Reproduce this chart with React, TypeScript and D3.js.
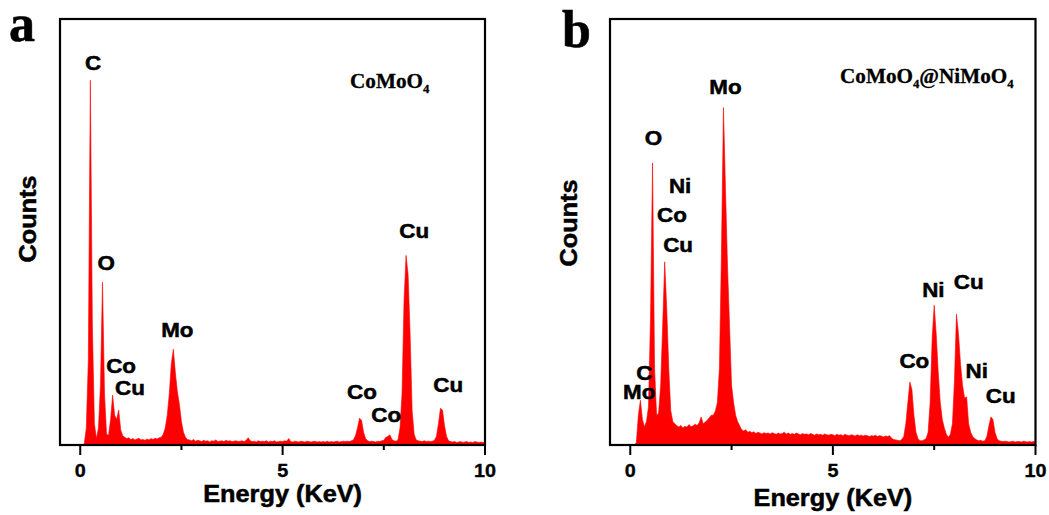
import React from "react";
import * as d3 from "d3";

// EDS spectra, counts per 0.05 keV channel starting at 0 keV (relative scale, 100 = full height)
const CHANNEL_KEV = 0.05;

const countsCoMoO4: number[] = [
  // 0.00 - 0.95
  0, 0, 0.3, 4, 20, 85.6, 28, 5, 1.5, 4, 14, 38.2, 12, 2.5, 2.3, 6, 11.7, 7, 6, 8.2,
  // 1.00 - 1.95
  3.5, 2.2, 1.8, 1.5, 1.7, 1.3, 1.5, 1.2, 1.4, 1.6, 1.2, 1.3, 1.1, 1.4, 1.2, 1.5, 1.3, 1.6, 1.4, 1.7,
  // 2.00 - 2.95
  1.8, 2.5, 4, 7, 12, 19, 22.5, 17, 12.5, 9.5, 5.5, 3, 1.8, 1.3, 1.2, 1.0, 1.3, 0.9, 1.1, 1.0,
  // 3.00 - 3.95
  0.8, 1.1, 0.9, 1.0, 0.7, 1.0, 0.9, 1.2, 0.8, 0.9, 1.0, 0.8, 1.1, 0.9, 1.0, 0.8, 0.9, 1.0, 0.8, 0.9,
  // 4.00 - 4.95
  1.0, 0.8, 1.1, 1.7, 1.0, 0.8, 0.9, 0.7, 1.0, 0.8, 0.9, 0.8, 1.0, 0.7, 0.9, 0.8, 1.0, 0.7, 0.8, 0.9,
  // 5.00 - 5.95
  0.8, 1.0, 0.9, 1.5, 0.8, 0.7, 0.9, 0.8, 0.7, 0.9, 0.8, 0.7, 0.9, 0.8, 0.7, 0.8, 0.9, 0.7, 0.8, 0.7,
  // 6.00 - 6.95
  0.8, 0.7, 0.9, 0.7, 0.8, 0.7, 0.8, 0.9, 0.7, 0.8, 0.9, 0.8, 0.9, 0.8, 1.0, 1.2, 2.2, 4, 6.3, 5.8,
  // 7.00 - 7.95
  3, 1.5, 1.0, 0.8, 0.9, 0.8, 0.7, 0.9, 0.8, 1.0, 1.1, 1.8, 2.0, 2.4, 1.3, 1.0, 0.9, 1.2, 4, 12,
  // 8.00 - 8.95
  34, 44.5, 40, 26, 8, 2.5, 1.2, 1.0, 0.9, 0.8, 1.0, 0.8, 0.9, 0.8, 0.9, 1.1, 2, 5, 8.6, 8.2,
  // 9.00 - 9.95
  4.5, 2, 1.0, 0.8, 0.7, 0.8, 0.6, 0.7, 0.8, 0.6, 0.7, 0.8, 0.6, 0.7, 0.6, 0.8, 0.7, 0.6, 0.7, 0.6,
  // 10.00
  0.6,
];

const countsCoreShell: number[] = [
  // 0.00 - 0.95
  0, 0, 0, 0.5, 7, 10.5, 6, 4.3, 5.5, 9, 30, 66.2, 18, 7, 7.5, 14, 28, 43, 32, 18,
  // 1.00 - 1.95
  8, 5.5, 5, 4.5, 4.2, 4.6, 4.0, 4.4, 4.2, 4.8, 4.3, 4.5, 4.9, 4.6, 5.2, 6.6, 5.0, 5.4, 5.8, 6.4,
  // 2.00 - 2.95
  7, 7, 8, 10, 18, 45, 79.2, 60, 42, 28, 14, 10, 7, 5.5, 4.5, 3.6, 3.3, 3.6, 3.0, 3.2,
  // 3.00 - 3.95
  2.9, 3.1, 2.7, 3.0, 2.8, 2.6, 2.9, 2.7, 2.8, 2.6, 2.9, 2.7, 2.5, 2.8, 2.6, 2.7, 3.0, 2.6, 2.8, 2.5,
  // 4.00 - 4.95
  2.7, 2.5, 2.8, 2.6, 2.4, 2.7, 2.5, 2.6, 2.4, 2.7, 2.5, 2.3, 2.6, 2.4, 2.5, 2.3, 2.6, 2.4, 2.3, 2.5,
  // 5.00 - 5.95
  2.4, 2.2, 2.5, 2.3, 2.4, 2.2, 2.5, 2.3, 2.2, 2.4, 2.3, 2.1, 2.4, 2.2, 2.3, 2.1, 2.3, 2.2, 2.0, 2.2,
  // 6.00 - 6.95
  2.1, 2.3, 2.0, 2.2, 2.1, 1.9, 2.1, 2.0, 2.2, 1.6, 1.3, 1.2, 1.1, 1.0, 1.3, 2, 5, 10, 14.8, 13,
  // 7.00 - 7.95
  7, 3, 1.5, 1.0, 1.0, 1.2, 1.5, 3, 10, 25, 32.8, 26, 17, 10, 6, 4, 2.5, 1.8, 2.5, 5,
  // 8.00 - 8.95
  15, 30.7, 26, 19, 14, 11, 11.3, 5, 3, 2, 1.5, 1.2, 1.0, 1.1, 0.9, 1.0, 2, 4.5, 6.6, 6,
  // 9.00 - 9.95
  3, 1.5, 1.0, 0.9, 0.8, 0.9, 0.8, 0.7, 0.8, 0.9, 0.7, 0.8, 0.8, 0.7, 0.9, 0.8, 0.7, 0.8, 0.7, 0.8,
  // 10.00
  0.7,
];

const majorTicks = [0, 5, 10];
const minorTicks = [2.5, 7.5];
const energyDomain: [number, number] = [-0.5, 10];

// Element labels: text, centre energy (keV) and baseline level (counts)
type PeakLabel = { text: string; keV: number; level: number };

const labelsCoMoO4: PeakLabel[] = [
  { text: "C", keV: 0.32, level: 88.0 },
  { text: "O", keV: 0.64, level: 41.1 },
  { text: "Co", keV: 1.01, level: 16.9 },
  { text: "Cu", keV: 1.23, level: 11.7 },
  { text: "Mo", keV: 2.4, level: 25.4 },
  { text: "Co", keV: 6.96, level: 10.8 },
  { text: "Co", keV: 7.56, level: 5.4 },
  { text: "Cu", keV: 8.25, level: 48.6 },
  { text: "Cu", keV: 9.09, level: 12.4 },
];

const labelsCoreShell: PeakLabel[] = [
  { text: "Mo", keV: 2.35, level: 82.4 },
  { text: "O", keV: 0.57, level: 70.4 },
  { text: "Ni", keV: 1.23, level: 59.2 },
  { text: "Co", keV: 1.03, level: 52.3 },
  { text: "Cu", keV: 1.18, level: 45.3 },
  { text: "C", keV: 0.35, level: 15.3 },
  { text: "Mo", keV: 0.22, level: 10.8 },
  { text: "Co", keV: 7.01, level: 18.1 },
  { text: "Ni", keV: 7.48, level: 34.7 },
  { text: "Cu", keV: 8.35, level: 36.6 },
  { text: "Ni", keV: 8.55, level: 15.7 },
  { text: "Cu", keV: 9.14, level: 9.9 },
];

const SANS = "'Liberation Sans', Arial, Helvetica, sans-serif";
const SERIF = "'Liberation Serif', 'Times New Roman', serif";
const RED = "#ff0000";

type StextProps = {
  x: number;
  y: number;
  size: number;
  sx?: number;
  rotate?: number;
  family?: string;
  anchor?: "start" | "middle" | "end";
  heavy?: number;
  children: React.ReactNode;
};

function SText({ x, y, size, sx = 1, rotate = 0, family = SANS, anchor = "middle", heavy = 0.35, children }: StextProps) {
  return (
    <text
      transform={`translate(${x},${y}) rotate(${rotate}) scale(${sx},1)`}
      fontSize={size}
      fontFamily={family}
      fontWeight="bold"
      textAnchor={anchor}
      fill="#000"
      stroke="#000"
      strokeWidth={heavy}
    >
      {children}
    </text>
  );
}

type Formula = { parts: { t: string; sub?: boolean }[] };

const formulaCoMoO4: Formula = { parts: [{ t: "CoMoO" }, { t: "4", sub: true }] };
const formulaCoreShell: Formula = {
  parts: [{ t: "CoMoO" }, { t: "4", sub: true }, { t: "@NiMoO" }, { t: "4", sub: true }],
};

type PanelProps = {
  id: string;
  letter: string;
  letterX: number;
  letterY: number;
  left: number;
  right: number;
  counts: number[];
  labels: PeakLabel[];
  formula: Formula;
  formulaX: number;
  formulaY: number;
  countsTitleX: number;
  countsTitleY: number;
  energyTitleY: number;
};

const TOP = 19;
const BOTTOM = 445;

function Panel(p: PanelProps) {
  const x = d3.scaleLinear().domain(energyDomain).range([p.left, p.right]);
  const y = d3.scaleLinear().domain([0, 100]).range([BOTTOM, TOP]);
  const points = p.counts.map((c, i) => ({ e: i * CHANNEL_KEV, c }));
  const area = d3
    .area<{ e: number; c: number }>()
    .x((d) => x(d.e))
    .y0(y(0))
    .y1((d) => y(d.c))
    .curve(d3.curveLinear);
  const clipId = `clip-${p.id}`;
  const midX = (x(0) + x(10)) / 2;

  return (
    <g>
      <defs>
        <clipPath id={clipId}>
          <rect x={p.left} y={TOP} width={p.right - p.left} height={BOTTOM - TOP} />
        </clipPath>
      </defs>
      <path d={area(points) ?? ""} fill={RED} stroke={RED} strokeWidth={0.6} clipPath={`url(#${clipId})`} />
      <rect
        x={p.left}
        y={TOP}
        width={p.right - p.left}
        height={BOTTOM - TOP}
        fill="none"
        stroke="#000"
        strokeWidth={2.2}
      />
      {majorTicks.map((t) => (
        <line key={`M${t}`} x1={x(t)} x2={x(t)} y1={BOTTOM} y2={BOTTOM + 10} stroke="#000" strokeWidth={2} />
      ))}
      {minorTicks.map((t) => (
        <line key={`m${t}`} x1={x(t)} x2={x(t)} y1={BOTTOM} y2={BOTTOM + 5} stroke="#000" strokeWidth={2} />
      ))}
      {majorTicks.map((t) => (
        <SText key={`L${t}`} x={x(t)} y={477} size={18} sx={1.1}>
          {d3.format("d")(t)}
        </SText>
      ))}
      {p.labels.map((l, i) => (
        <SText key={`P${i}`} x={x(l.keV)} y={y(l.level)} size={20} sx={1.12} heavy={0.5}>
          {l.text}
        </SText>
      ))}
      <text
        transform={`translate(${p.formulaX},${p.formulaY}) scale(1.06,1)`}
        fontFamily={SERIF}
        fontWeight="bold"
        fontSize={20}
        fill="#000"
        stroke="#000"
        strokeWidth={0.3}
      >
        {p.formula.parts.map((part, i) =>
          part.sub ? (
            <tspan key={i} fontSize={12} dy={5}>
              {part.t}
            </tspan>
          ) : (
            <tspan key={i} dy={i > 0 ? -5 : 0}>
              {part.t}
            </tspan>
          )
        )}
      </text>
      <SText x={midX} y={p.energyTitleY} size={23} sx={1.1} heavy={0.5}>
        Energy (KeV)
      </SText>
      <SText x={p.countsTitleX} y={p.countsTitleY} size={23} sx={1.1} rotate={-90} heavy={0.5}>
        Counts
      </SText>
      <SText x={p.letterX} y={p.letterY} size={52} family={SERIF} anchor="start" heavy={0.6}>
        {p.letter}
      </SText>
    </g>
  );
}

export default function App() {
  return (
    <svg
      width={1049}
      height={515}
      viewBox="0 0 1049 515"
      style={{ position: "absolute", left: 0, top: 0, background: "#fff" }}
    >
      <rect x={0} y={0} width={1049} height={515} fill="#fff" />
      <Panel
        id="a"
        letter="a"
        letterX={9}
        letterY={41}
        left={60}
        right={485}
        counts={countsCoMoO4}
        labels={labelsCoMoO4}
        formula={formulaCoMoO4}
        formulaX={350}
        formulaY={88}
        countsTitleX={36}
        countsTitleY={219}
        energyTitleY={502}
      />
      <Panel
        id="b"
        letter="b"
        letterX={562}
        letterY={47}
        left={610}
        right={1035.5}
        counts={countsCoreShell}
        labels={labelsCoreShell}
        formula={formulaCoreShell}
        formulaX={840}
        formulaY={83}
        countsTitleX={577}
        countsTitleY={223}
        energyTitleY={506}
      />
    </svg>
  );
}
